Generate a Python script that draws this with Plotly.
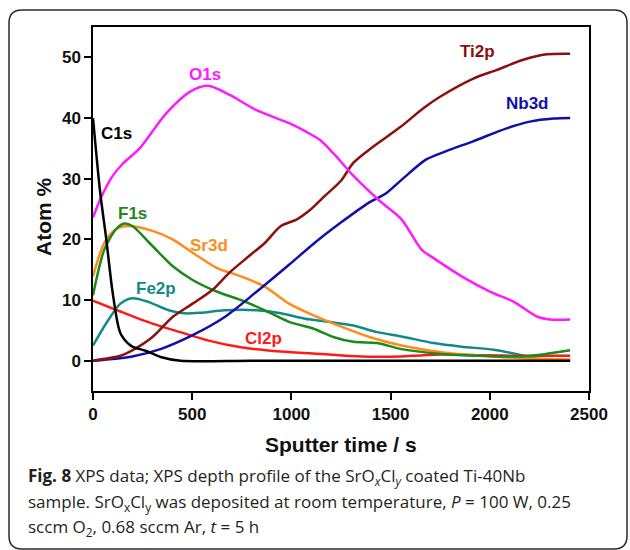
import plotly.graph_objects as go

# ---------------- data ----------------
c1s_t = [0, 36, 67, 97, 128, 143, 194, 269, 340, 441, 800, 1500, 2405]
c1s_v = [40.0, 27.8, 20.0, 11.7, 5.6, 4.2, 2.4, 1.6, 0.6, 0.0, 0.0, 0.0, 0.0]

o1s_t = [0, 42, 100, 151, 235, 370, 488, 580, 689, 824, 992, 1076, 1143, 1211, 1312,
         1443, 1555, 1656, 1717, 1858, 2000, 2121, 2243, 2304, 2405]
o1s_v = [23.6, 27.0, 30.5, 32.5, 35.0, 40.8, 44.3, 45.3, 43.8, 41.3, 39.1, 37.7, 36.4,
         34.2, 30.5, 26.4, 23.3, 18.3, 16.9, 13.9, 11.4, 9.7, 7.2, 6.8, 6.8]

ti2p_t = [0, 138, 198, 300, 401, 502, 603, 684, 785, 866, 947, 1028, 1089, 1170, 1251,
          1312, 1413, 1549, 1665, 1749, 1917, 2034, 2169, 2287, 2405]
ti2p_v = [0.0, 0.8, 1.7, 3.9, 7.2, 9.4, 11.7, 14.4, 17.2, 19.4, 22.2, 23.3, 24.7, 27.2, 29.7,
          32.6, 35.3, 38.5, 41.6, 43.5, 46.5, 47.9, 49.6, 50.5, 50.6]

nb3d_t = [0, 198, 340, 502, 664, 826, 988, 1109, 1251, 1393, 1474, 1555, 1676, 1777,
          1919, 2085, 2202, 2320, 2405]
nb3d_v = [0.0, 0.7, 1.9, 4.2, 7.2, 11.4, 15.8, 19.2, 22.8, 26.1, 27.5, 29.8, 33.1, 34.5,
          36.2, 38.3, 39.4, 39.9, 40.0]

f1s_t = [0, 57, 117, 158, 198, 300, 401, 502, 623, 745, 866, 988, 1109, 1211, 1312,
         1433, 1555, 1757, 1960, 2162, 2283, 2405]
f1s_v = [10.8, 18.3, 21.7, 22.6, 22.2, 18.9, 15.6, 13.3, 11.4, 10.0, 8.3, 6.4, 5.3, 3.9,
         3.1, 2.9, 1.9, 1.1, 0.8, 0.7, 1.1, 1.7]

sr3d_t = [0, 57, 117, 178, 300, 401, 502, 623, 745, 866, 988, 1109, 1251, 1393, 1555,
          1757, 1960, 2162, 2405]
sr3d_v = [13.9, 19.4, 21.7, 22.2, 21.4, 20.0, 17.8, 15.3, 13.9, 12.2, 9.4, 7.5, 5.6, 3.9,
          2.5, 1.4, 0.8, 0.4, 0.2]

fe2p_t = [0, 77, 138, 198, 279, 381, 462, 543, 664, 826, 947, 1069, 1190, 1312, 1433,
          1555, 1717, 1858, 2020, 2162, 2243, 2405]
fe2p_v = [2.5, 6.7, 9.4, 10.3, 9.7, 8.3, 7.8, 7.9, 8.3, 8.3, 7.8, 6.9, 6.4, 5.8, 4.7,
          4.0, 2.9, 2.3, 1.8, 0.9, 0.3, 0.0]

cl2p_t = [0, 138, 300, 441, 583, 745, 947, 1150, 1352, 1555, 1757, 1960, 2162, 2405]
cl2p_v = [9.9, 8.1, 6.1, 4.7, 3.3, 2.2, 1.5, 1.1, 0.7, 0.7, 1.0, 0.9, 0.8, 0.8]

x_ticks = [0, 500, 1000, 1500, 2000, 2500]
y_ticks = [0, 10, 20, 30, 40, 50]

series = [
    ("Fe2p", fe2p_t, fe2p_v, "#138a8a"),
    ("Cl2p", cl2p_t, cl2p_v, "#ff1a1a"),
    ("Sr3d", sr3d_t, sr3d_v, "#ff8c1a"),
    ("F1s", f1s_t, f1s_v, "#1b8a1b"),
    ("Nb3d", nb3d_t, nb3d_v, "#1010a8"),
    ("Ti2p", ti2p_t, ti2p_v, "#8b1010"),
    ("O1s", o1s_t, o1s_v, "#ff1aff"),
    ("C1s", c1s_t, c1s_v, "#000000"),
]

# label anchors (data coordinates)
labels = {
    "C1s": (120, 37.5), "O1s": (564, 47.1), "Ti2p": (1940, 50.9), "Nb3d": (2192, 42.4),
    "F1s": (198, 24.3), "Sr3d": (583, 19.0), "Fe2p": (320, 11.9), "Cl2p": (857, 3.6),
}

W, H = 630, 550
L, R, T, B = 93, 41, 27, 159
PW, PH = W - L - R, H - T - B


def px(xp):
    return (xp - L) / PW


def py(yp):
    return (H - B - yp) / PH


fig = go.Figure()
for name, t, v, col in series:
    fig.add_trace(go.Scatter(x=t, y=v, mode="lines", name=name,
                             line=dict(color=col, width=2.5, shape="spline", smoothing=0.8),
                             showlegend=False, hoverinfo="skip"))

lab_font = "Liberation Sans, Arial, sans-serif"
for name, t, v, col in series:
    lx, ly = labels[name]
    fig.add_annotation(x=lx, y=ly, xref="x", yref="y", text="<b>%s</b>" % name,
                       showarrow=False, xanchor="center", yanchor="middle",
                       font=dict(family=lab_font, size=17, color=col))

# axis titles
fig.add_annotation(x=0.5, y=py(444), xref="paper", yref="paper",
                   text="<b>Sputter time / s</b>", showarrow=False,
                   xanchor="center", yanchor="middle",
                   font=dict(family=lab_font, size=21, color="#111"))
fig.add_annotation(x=px(44), y=py(217), xref="paper", yref="paper",
                   text="<b>Atom %</b>", showarrow=False, textangle=-90,
                   xanchor="center", yanchor="middle",
                   font=dict(family=lab_font, size=21, color="#111"))

# caption
cap_font = dict(family="Open Sans, Noto Sans, sans-serif", size=17, color="#231f20")
cap_lines = [
    (476, "<b>Fig. 8</b> XPS data; XPS depth profile of the SrO<sub><i>x</i></sub>Cl<sub><i>y</i></sub> coated Ti-40Nb"),
    (502, "sample. SrO<sub>x</sub>Cl<sub>y</sub> was deposited at room temperature, <i>P</i> = 100 W, 0.25"),
    (527, "sccm O<sub>2</sub>, 0.68 sccm Ar, <i>t</i> = 5 h"),
]
for yy, txt in cap_lines:
    fig.add_annotation(x=px(26), y=py(yy), xref="paper", yref="paper", text=txt,
                       showarrow=False, xanchor="left", yanchor="middle", font=cap_font)

# rounded outer frame
x0, y0, x1, y1, r = 9, 10, 627, 549, 13
path = (f"M {px(x0 + r)},{py(y0)} L {px(x1 - r)},{py(y0)} Q {px(x1)},{py(y0)} {px(x1)},{py(y0 + r)} "
        f"L {px(x1)},{py(y1 - r)} Q {px(x1)},{py(y1)} {px(x1 - r)},{py(y1)} "
        f"L {px(x0 + r)},{py(y1)} Q {px(x0)},{py(y1)} {px(x0)},{py(y1 - r)} "
        f"L {px(x0)},{py(y0 + r)} Q {px(x0)},{py(y0)} {px(x0 + r)},{py(y0)} Z")
fig.add_shape(type="path", path=path, xref="paper", yref="paper",
              line=dict(color="#2b2b2b", width=1.5), layer="below")

axis_common = dict(showgrid=False, zeroline=False, showline=True, linecolor="black",
                   linewidth=1.5, mirror=True, ticks="outside", ticklen=7, tickwidth=1.5,
                   tickcolor="black",
                   tickfont=dict(family=lab_font, size=17, color="#111", weight="bold"))

fig.update_layout(
    width=W, height=H, margin=dict(l=L, r=R, t=T, b=B),
    paper_bgcolor="white", plot_bgcolor="white",
    xaxis=dict(range=[0, 2500], tickvals=x_ticks, **axis_common),
    yaxis=dict(range=[-5, 55], tickvals=y_ticks, **axis_common),
)

fig.write_html("out.html", config={"displayModeBar": False},
               post_script="document.body.style.margin='0';document.body.style.overflow='hidden';")
